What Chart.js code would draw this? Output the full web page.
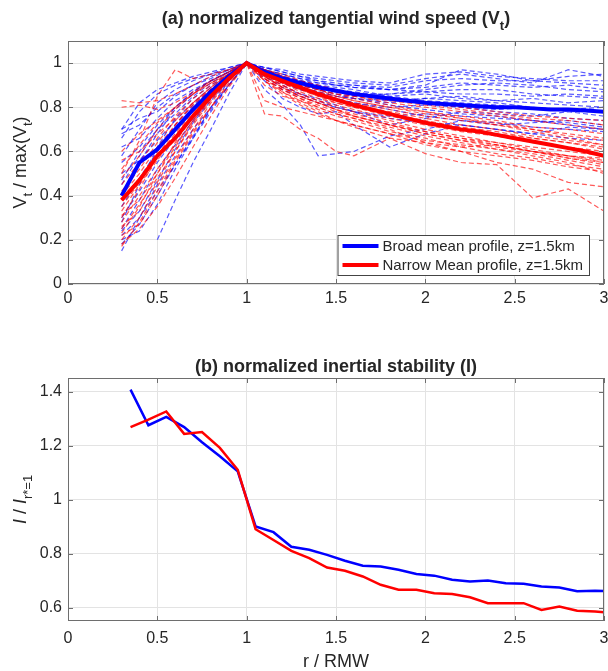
<!DOCTYPE html>
<html lang="en">
<head>
<meta charset="UTF-8">
<title>Normalized tangential wind and inertial stability</title>
<script src="https://cdn.jsdelivr.net/npm/chart.js"></script>
<style>
  html, body { margin: 0; padding: 0; background: #fff; }
  #wrap { position: relative; width: 608px; height: 671px; }
  .panel { position: absolute; left: 0; width: 608px; }
  #top { top: 0; height: 320px; }
  #bot { top: 320px; height: 351px; }
</style>
</head>
<body>
<div id="wrap">
  <div class="panel" id="top"><canvas id="chartA"></canvas></div>
  <div class="panel" id="bot"><canvas id="chartB"></canvas></div>
</div>

<script>
// ---- panel (a): individual profiles (dashed), r / RMW grid
const rProf = [0.3, 0.4, 0.5, 0.6, 0.7, 0.8, 0.9, 1.0, 1.1, 1.2, 1.3, 1.4, 1.5, 1.6, 1.8, 2.0, 2.2, 2.4, 2.6, 2.8, 3.0];

const broadProfiles = [
  [0.15, 0.30, 0.45, 0.58, 0.70, 0.80, 0.90, 1, 0.97, 0.95, 0.93, 0.91, 0.90, 0.89, 0.88, 0.90, 0.97, 0.95, 0.92, 0.94, 0.95],
  [0.20, 0.24, 0.36, 0.52, 0.66, 0.80, 0.92, 1, 0.98, 0.96, 0.94, 0.93, 0.92, 0.91, 0.90, 0.93, 0.95, 0.93, 0.91, 0.97, 0.94],
  [0.70, 0.82, 0.88, 0.91, 0.94, 0.96, 0.98, 1, 0.97, 0.95, 0.93, 0.92, 0.90, 0.89, 0.88, 0.89, 0.91, 0.90, 0.89, 0.90, 0.88],
  [0.68, 0.72, 0.80, 0.86, 0.90, 0.93, 0.97, 1, 0.96, 0.93, 0.90, 0.88, 0.86, 0.85, 0.86, 0.87, 0.88, 0.88, 0.86, 0.85, 0.84],
  [0.62, 0.66, 0.75, 0.83, 0.88, 0.92, 0.96, 1, 0.95, 0.92, 0.89, 0.87, 0.85, 0.84, 0.82, 0.84, 0.85, 0.83, 0.84, 0.82, 0.83],
  [0.40, 0.55, 0.68, 0.79, 0.86, 0.92, 0.96, 1, 0.95, 0.91, 0.88, 0.86, 0.84, 0.82, 0.80, 0.81, 0.80, 0.79, 0.80, 0.78, 0.78],
  [0.47, 0.60, 0.70, 0.77, 0.85, 0.91, 0.96, 1, 0.88, 0.81, 0.72, 0.58, 0.59, 0.60, 0.67, 0.70, 0.74, 0.72, 0.73, 0.74, 0.72],
  [0.25, 0.38, 0.52, 0.63, 0.74, 0.84, 0.93, 1, 0.92, 0.84, 0.80, 0.77, 0.78, 0.72, 0.62, 0.68, 0.72, 0.70, 0.68, 0.71, 0.70],
  [0.30, 0.42, 0.55, 0.66, 0.75, 0.84, 0.92, 1, 0.97, 0.94, 0.92, 0.90, 0.88, 0.87, 0.85, 0.86, 0.84, 0.83, 0.82, 0.81, 0.80],
  [null, null, 0.20, 0.38, 0.55, 0.70, 0.86, 1, 0.96, 0.93, 0.91, 0.89, 0.87, 0.86, 0.83, 0.82, 0.80, 0.78, 0.77, 0.75, 0.74],
  [0.55, 0.62, 0.72, 0.80, 0.87, 0.92, 0.96, 1, 0.96, 0.93, 0.90, 0.88, 0.86, 0.84, 0.81, 0.79, 0.77, 0.76, 0.74, 0.73, 0.71],
  [0.35, 0.48, 0.60, 0.72, 0.81, 0.88, 0.94, 1, 0.97, 0.94, 0.92, 0.91, 0.90, 0.90, 0.89, 0.92, 0.93, 0.92, 0.92, 0.91, 0.90],
  [0.22, 0.30, 0.42, 0.54, 0.66, 0.78, 0.90, 1, 0.94, 0.90, 0.86, 0.83, 0.80, 0.78, 0.75, 0.73, 0.72, 0.70, 0.68, 0.66, 0.65],
  [0.45, 0.58, 0.70, 0.80, 0.87, 0.92, 0.96, 1, 0.98, 0.96, 0.94, 0.92, 0.91, 0.90, 0.88, 0.87, 0.86, 0.86, 0.85, 0.86, 0.85],
  [0.70, 0.75, 0.78, 0.85, 0.90, 0.94, 0.97, 1, 0.97, 0.94, 0.92, 0.90, 0.89, 0.88, 0.85, 0.83, 0.82, 0.81, 0.79, 0.79, 0.78],
  [0.18, 0.27, 0.40, 0.54, 0.67, 0.79, 0.90, 1, 0.95, 0.91, 0.88, 0.86, 0.84, 0.82, 0.79, 0.76, 0.74, 0.73, 0.71, 0.70, 0.69],
  [0.58, 0.70, 0.82, 0.88, 0.92, 0.95, 0.98, 1, 0.98, 0.97, 0.95, 0.94, 0.93, 0.92, 0.91, 0.95, 0.96, 0.94, 0.93, 0.92, 0.92],
  [0.28, 0.45, 0.62, 0.75, 0.84, 0.90, 0.95, 1, 0.97, 0.94, 0.91, 0.89, 0.87, 0.86, 0.86, 0.88, 0.90, 0.91, 0.90, 0.88, 0.87],
  [0.50, 0.56, 0.65, 0.74, 0.82, 0.89, 0.95, 1, 0.93, 0.88, 0.85, 0.82, 0.80, 0.78, 0.76, 0.77, 0.76, 0.75, 0.74, 0.72, 0.70],
  [0.24, 0.33, 0.47, 0.61, 0.73, 0.83, 0.92, 1, 0.96, 0.92, 0.89, 0.87, 0.85, 0.84, 0.83, 0.84, 0.83, 0.82, 0.80, 0.79, 0.80],
  [0.66, 0.78, 0.86, 0.90, 0.93, 0.95, 0.97, 1, 0.94, 0.89, 0.86, 0.84, 0.81, 0.78, 0.72, 0.75, 0.78, 0.77, 0.76, 0.78, 0.76]
];

const narrowProfiles = [
  [0.83, 0.82, 0.83, 0.86, 0.90, 0.94, 0.97, 1, 0.95, 0.90, 0.86, 0.83, 0.80, 0.78, 0.74, 0.70, 0.67, 0.64, 0.61, 0.58, 0.55],
  [0.80, 0.81, 0.79, 0.82, 0.87, 0.92, 0.96, 1, 0.94, 0.89, 0.85, 0.82, 0.79, 0.77, 0.73, 0.69, 0.66, 0.63, 0.60, 0.57, 0.54],
  [0.17, 0.28, 0.42, 0.56, 0.69, 0.80, 0.90, 1, 0.77, 0.76, 0.70, 0.66, 0.60, 0.58, 0.66, 0.64, 0.62, 0.63, 0.60, 0.58, 0.57],
  [0.20, 0.30, 0.44, 0.57, 0.70, 0.82, 0.92, 1, 0.93, 0.87, 0.82, 0.78, 0.74, 0.71, 0.66, 0.59, 0.55, 0.54, 0.39, 0.43, 0.33],
  [0.25, 0.36, 0.48, 0.60, 0.72, 0.83, 0.92, 1, 0.93, 0.88, 0.84, 0.80, 0.77, 0.75, 0.70, 0.64, 0.60, 0.55, 0.52, 0.46, 0.44],
  [0.28, 0.40, 0.52, 0.63, 0.74, 0.84, 0.93, 1, 0.95, 0.91, 0.87, 0.84, 0.82, 0.80, 0.76, 0.73, 0.70, 0.68, 0.66, 0.64, 0.62],
  [0.33, 0.45, 0.56, 0.67, 0.77, 0.86, 0.94, 1, 0.96, 0.92, 0.89, 0.86, 0.84, 0.82, 0.79, 0.76, 0.74, 0.72, 0.70, 0.68, 0.66],
  [0.38, 0.48, 0.58, 0.68, 0.78, 0.87, 0.94, 1, 0.95, 0.91, 0.88, 0.85, 0.83, 0.81, 0.78, 0.75, 0.72, 0.70, 0.67, 0.65, 0.63],
  [0.45, 0.55, 0.66, 0.76, 0.84, 0.90, 0.95, 1, 0.96, 0.93, 0.90, 0.88, 0.86, 0.85, 0.82, 0.80, 0.78, 0.76, 0.74, 0.72, 0.70],
  [0.50, 0.65, 0.85, 0.97, 0.93, 0.95, 0.97, 1, 0.96, 0.93, 0.90, 0.88, 0.86, 0.84, 0.81, 0.78, 0.76, 0.74, 0.71, 0.70, 0.68],
  [0.56, 0.60, 0.68, 0.75, 0.82, 0.88, 0.94, 1, 0.94, 0.89, 0.85, 0.82, 0.79, 0.76, 0.72, 0.68, 0.65, 0.62, 0.60, 0.57, 0.55],
  [0.60, 0.68, 0.74, 0.80, 0.86, 0.91, 0.95, 1, 0.97, 0.94, 0.91, 0.89, 0.87, 0.85, 0.83, 0.81, 0.79, 0.77, 0.75, 0.74, 0.72],
  [0.18, 0.25, 0.35, 0.48, 0.62, 0.76, 0.89, 1, 0.92, 0.86, 0.81, 0.77, 0.74, 0.72, 0.68, 0.65, 0.63, 0.61, 0.59, 0.56, 0.53],
  [0.30, 0.43, 0.58, 0.70, 0.80, 0.88, 0.95, 1, 0.94, 0.89, 0.85, 0.82, 0.79, 0.76, 0.72, 0.69, 0.66, 0.64, 0.62, 0.60, 0.58],
  [0.42, 0.52, 0.64, 0.74, 0.82, 0.89, 0.95, 1, 0.97, 0.94, 0.91, 0.88, 0.85, 0.83, 0.80, 0.78, 0.75, 0.73, 0.70, 0.67, 0.65],
  [0.22, 0.27, 0.40, 0.55, 0.68, 0.80, 0.91, 1, 0.90, 0.85, 0.83, 0.80, 0.77, 0.75, 0.71, 0.67, 0.64, 0.61, 0.58, 0.55, 0.50],
  [0.35, 0.46, 0.60, 0.72, 0.82, 0.89, 0.95, 1, 0.96, 0.92, 0.89, 0.87, 0.85, 0.83, 0.80, 0.77, 0.75, 0.72, 0.69, 0.66, 0.63],
  [0.26, 0.33, 0.46, 0.60, 0.73, 0.84, 0.93, 1, 0.93, 0.88, 0.84, 0.81, 0.78, 0.76, 0.72, 0.68, 0.65, 0.63, 0.60, 0.58, 0.56],
  [0.48, 0.58, 0.70, 0.79, 0.86, 0.92, 0.96, 1, 0.95, 0.91, 0.88, 0.85, 0.82, 0.80, 0.77, 0.74, 0.71, 0.69, 0.66, 0.64, 0.61],
  [0.23, 0.35, 0.50, 0.64, 0.76, 0.86, 0.94, 1, 0.92, 0.87, 0.83, 0.79, 0.76, 0.74, 0.69, 0.66, 0.62, 0.59, 0.57, 0.54, 0.52],
  [0.40, 0.50, 0.62, 0.72, 0.81, 0.88, 0.94, 1, 0.97, 0.95, 0.92, 0.90, 0.88, 0.86, 0.84, 0.82, 0.80, 0.78, 0.76, 0.75, 0.74],
  [0.31, 0.38, 0.50, 0.62, 0.74, 0.85, 0.93, 1, 0.83, 0.80, 0.78, 0.76, 0.74, 0.72, 0.68, 0.63, 0.60, 0.58, 0.56, 0.53, 0.51],
  [0.52, 0.63, 0.73, 0.80, 0.86, 0.91, 0.95, 1, 0.94, 0.90, 0.86, 0.83, 0.81, 0.79, 0.75, 0.72, 0.69, 0.67, 0.64, 0.62, 0.60]
];

// ---- panel (a): mean profiles (thick)
const rMean = [0.3, 0.4, 0.5, 0.6, 0.7, 0.8, 0.9, 1.0, 1.1, 1.2, 1.3, 1.4, 1.5, 1.6, 1.7, 1.8, 1.9, 2.0,
               2.1, 2.2, 2.3, 2.4, 2.5, 2.6, 2.7, 2.8, 2.9, 3.0];
const broadMean = [0.40, 0.55, 0.61, 0.70, 0.79, 0.87, 0.94, 1.00, 0.96, 0.93, 0.91, 0.89, 0.875, 0.86, 0.85, 0.84, 0.83, 0.82,
                   0.815, 0.81, 0.805, 0.80, 0.80, 0.795, 0.79, 0.79, 0.785, 0.78];
const narrowMean = [0.38, 0.47, 0.58, 0.66, 0.76, 0.85, 0.93, 1.00, 0.95, 0.92, 0.89, 0.86, 0.835, 0.81, 0.79, 0.77, 0.75, 0.73,
                    0.715, 0.70, 0.69, 0.675, 0.66, 0.645, 0.63, 0.615, 0.60, 0.58];
const meanLabels = ['Broad mean profile, z=1.5km', 'Narrow Mean profile, z=1.5km'];

// ---- panel (b): normalized inertial stability
const rStab = [0.35, 0.45, 0.55, 0.65, 0.75, 0.85, 0.95, 1.05, 1.15, 1.25, 1.35, 1.45, 1.55, 1.65, 1.75, 1.85, 1.95, 2.05,
               2.15, 2.25, 2.35, 2.45, 2.55, 2.65, 2.75, 2.85, 2.95, 3.05];
const broadStab = [1.407, 1.275, 1.306, 1.268, 1.212, 1.16, 1.104, 0.90, 0.879, 0.825, 0.814, 0.795, 0.773, 0.755, 0.752, 0.74, 0.724, 0.718,
                   0.703, 0.696, 0.70, 0.69, 0.688, 0.678, 0.674, 0.66, 0.662, 0.66];
const narrowStab = [1.268, 1.296, 1.326, 1.243, 1.25, 1.191, 1.11, 0.89, 0.85, 0.81, 0.783, 0.748, 0.736, 0.715, 0.684, 0.666, 0.666, 0.653,
                    0.65, 0.638, 0.616, 0.616, 0.616, 0.591, 0.604, 0.588, 0.585, 0.579];

// tick positions
const xTickVals = [0, 0.5, 1, 1.5, 2, 2.5, 3];
const yTickValsA = [0, 0.2, 0.4, 0.6, 0.8, 1];
const yTickValsB = [0.6, 0.8, 1, 1.2, 1.4];

const BLUE = '#0000ff';
const RED = '#ff0000';
const FONT = '"Liberation Sans", Arial, sans-serif';
const TXT = '#262626';

const pts = (xs, ys) => xs.map((x, i) => ({ x: x, y: ys[i] }));

// text with sub/italic pieces, drawn centred at (x, y)
function richText(ctx, parts, x, y, size, bold, rotate) {
  const fontOf = p => (p.it ? 'italic ' : '') + (bold ? 'bold ' : '') +
    Math.round(p.sub ? size * 0.72 : size) + 'px ' + FONT;
  let w = 0;
  parts.forEach(p => { ctx.font = fontOf(p); w += ctx.measureText(p.t).width; });
  ctx.save();
  ctx.translate(x, y);
  if (rotate) ctx.rotate(-Math.PI / 2);
  ctx.fillStyle = TXT;
  ctx.textBaseline = 'alphabetic';
  ctx.textAlign = 'left';
  let cx = -w / 2;
  parts.forEach(p => {
    ctx.font = fontOf(p);
    ctx.fillText(p.t, cx, size * 0.36 + (p.sub ? size * 0.3 : 0));
    cx += ctx.measureText(p.t).width;
  });
  ctx.restore();
}

// box, inward ticks, titles, legend
const decor = {
  id: 'decor',
  afterDraw(chart, args, o) {
    const { ctx, chartArea: a, scales } = chart;
    ctx.save();
    ctx.strokeStyle = '#6e6e6e';
    ctx.lineWidth = 1;
    ctx.beginPath();
    scales.x.ticks.forEach(t => {
      const px = Math.round(scales.x.getPixelForValue(t.value)) + 0.5;
      ctx.moveTo(px, a.bottom); ctx.lineTo(px, a.bottom - 5);
      ctx.moveTo(px, a.top); ctx.lineTo(px, a.top + 5);
    });
    scales.y.ticks.forEach(t => {
      const py = Math.round(scales.y.getPixelForValue(t.value)) + 0.5;
      ctx.moveTo(a.left, py); ctx.lineTo(a.left + 5, py);
      ctx.moveTo(a.right, py); ctx.lineTo(a.right - 5, py);
    });
    ctx.stroke();
    ctx.strokeRect(a.left + 0.5, a.top + 0.5, a.width - 1, a.height - 1);
    ctx.restore();

    const midX = (a.left + a.right) / 2;
    richText(ctx, o.title, midX, o.titleY, 18, true, false);
    richText(ctx, o.yTitle, 20, (a.top + a.bottom) / 2, 18, false, true);
    if (o.xTitle) richText(ctx, o.xTitle, midX, o.xTitleY, 18, false, false);

    if (o.legend) {
      const items = chart.data.datasets.filter(d => d.label)
        .sort((p, q) => p.legendRank - q.legendRank);
      ctx.save();
      ctx.font = '15px ' + FONT;
      const tw = Math.max(...items.map(d => ctx.measureText(d.label).width));
      const bw = 5 + 36 + 4 + tw + 6, bh = 40;
      const bx = a.right - 15 - bw, by = a.bottom - 9 - bh;
      ctx.fillStyle = '#fff';
      ctx.fillRect(bx, by, bw, bh);
      ctx.strokeStyle = '#444';
      ctx.lineWidth = 1;
      ctx.strokeRect(bx + 0.5, by + 0.5, bw, bh);
      items.forEach((d, i) => {
        const ly = by + 11 + i * 19;
        ctx.strokeStyle = d.borderColor;
        ctx.lineWidth = 4;
        ctx.beginPath(); ctx.moveTo(bx + 5, ly); ctx.lineTo(bx + 41, ly); ctx.stroke();
        ctx.fillStyle = TXT;
        ctx.textBaseline = 'middle';
        ctx.fillText(d.label, bx + 45, ly + 1);
      });
      ctx.restore();
    }
  }
};

function axes(yMin, yMax, yVals, xPad, xHeight) {
  return {
    x: {
      type: 'linear', min: 0, max: 3,
      afterBuildTicks: s => { s.ticks = xTickVals.map(v => ({ value: v })); },
      ticks: { padding: xPad, maxRotation: 0, autoSkip: false, color: TXT,
               font: { family: FONT, size: 16 }, callback: v => String(v) },
      grid: { color: '#e3e3e3', drawTicks: false },
      border: { display: false },
      afterFit: s => { s.height = xHeight; s.paddingLeft = 0; s.paddingRight = 0; }
    },
    y: {
      min: yMin, max: yMax,
      afterBuildTicks: s => { s.ticks = yVals.map(v => ({ value: v })); },
      ticks: { padding: 6, autoSkip: false, color: TXT,
               font: { family: FONT, size: 16 }, callback: v => String(v) },
      grid: { color: '#e3e3e3', drawTicks: false },
      border: { display: false },
      afterFit: s => { s.width = 68; s.paddingTop = 0; s.paddingBottom = 0; }
    }
  };
}

const common = {
  responsive: true,
  maintainAspectRatio: false,
  animation: false,
  events: [],
  elements: { point: { radius: 0 }, line: { tension: 0 } }
};

// panel (a)
const dsA = [];
dsA.push({ label: meanLabels[1], legendRank: 1, data: pts(rMean, narrowMean), borderColor: RED, borderWidth: 4, order: 0 });
dsA.push({ label: meanLabels[0], legendRank: 0, data: pts(rMean, broadMean), borderColor: BLUE, borderWidth: 4, order: 1 });
narrowProfiles.forEach(p => dsA.push({
  data: pts(rProf, p), borderColor: 'rgba(255,0,0,0.65)', borderWidth: 1.2, borderDash: [5, 3], order: 2
}));
broadProfiles.forEach(p => dsA.push({
  data: pts(rProf, p), borderColor: 'rgba(0,0,255,0.65)', borderWidth: 1.2, borderDash: [5, 3], order: 3
}));

new Chart(document.getElementById('chartA'), {
  type: 'line',
  data: { datasets: dsA },
  options: Object.assign({}, common, {
    layout: { padding: { top: 41, right: 4, left: 0, bottom: 0 } },
    scales: axes(0, 1.1, yTickValsA, 5, 36),
    plugins: {
      legend: { display: false },
      tooltip: { enabled: false },
      decor: {
        title: [{ t: '(a) normalized tangential wind speed (V' }, { t: 't', sub: true }, { t: ')' }],
        titleY: 18,
        yTitle: [{ t: 'V' }, { t: 't', sub: true }, { t: ' / max(V' }, { t: 't', sub: true }, { t: ')' }],
        legend: true
      }
    }
  }),
  plugins: [decor]
});

// panel (b)
new Chart(document.getElementById('chartB'), {
  type: 'line',
  data: {
    datasets: [
      { data: pts(rStab, narrowStab), borderColor: RED, borderWidth: 2.5, order: 0 },
      { data: pts(rStab, broadStab), borderColor: BLUE, borderWidth: 2.5, order: 1 }
    ]
  },
  options: Object.assign({}, common, {
    layout: { padding: { top: 58, right: 4, left: 0, bottom: 0 } },
    scales: axes(0.55, 1.45, yTickValsB, 8, 50),
    plugins: {
      legend: { display: false },
      tooltip: { enabled: false },
      decor: {
        title: [{ t: '(b) normalized inertial stability (I)' }],
        titleY: 46,
        yTitle: [{ t: 'I', it: true }, { t: ' / ' }, { t: 'I', it: true }, { t: 'r*=1', sub: true }],
        xTitle: [{ t: 'r / RMW' }],
        xTitleY: 341
      }
    }
  }),
  plugins: [decor]
});
</script>
</body>
</html>
